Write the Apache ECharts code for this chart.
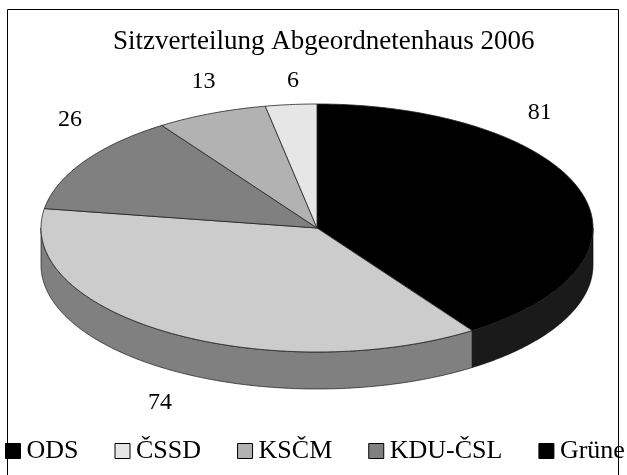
<!DOCTYPE html>
<html>
<head>
<meta charset="utf-8">
<script src="https://cdn.jsdelivr.net/npm/echarts@6/dist/echarts.min.js"></script>
<style>html,body{margin:0;padding:0;background:#fff}#c{width:627px;height:475px}</style>
</head>
<body>
<div id="c"></div>
<script>
// ---- data ----
const categories = ['ODS', 'ČSSD', 'KSČM', 'KDU-ČSL', 'Grüne'];
const seats = [81, 74, 26, 13, 6];
const titleText = 'Sitzverteilung Abgeordnetenhaus 2006';

// ---- styles / layout ----
const pieColors = ['#000000', '#cccccc', '#808080', '#b2b2b2', '#e6e6e6'];
const sideColors = ['#1a1a1a', '#808080', '#404040', '#595959', '#737373'];
const legendColors = ['#000000', '#e6e6e6', '#b2b2b2', '#808080', '#000000'];
const labelOffsets = [[-41, -79], [-9, 70], [-14, -42], [-8, -32], [2, -24]];
const FONT = '"Liberation Serif", "DejaVu Serif", serif';
const geo = { cx: 317, cy: 228, rx: 276, ry: 124, h: 37 };

const total = seats.reduce((a, b) => a + b, 0);
function pt(t, dy) {
  return [geo.cx + geo.rx * Math.sin(t), geo.cy - geo.ry * Math.cos(t) + (dy || 0)];
}
function arc(a, b, dy) {
  const n = Math.max(2, Math.ceil(Math.abs(b - a) / 0.01));
  const out = [];
  for (let k = 0; k <= n; k++) out.push(pt(a + (b - a) * k / n, dy));
  return out;
}

function makeRender(i) {
  return function (params, api) {
    let before = 0;
    for (let j = 0; j < i; j++) before += seats[j];
    const v = api.value(0);
    const a1 = before / total * Math.PI * 2;
    const a2 = (before + v) / total * Math.PI * 2;
    const children = [];
    const s = Math.max(a1, Math.PI / 2), e = Math.min(a2, Math.PI * 1.5);
    if (e > s) {
      const pts = arc(s, e, 0).concat(arc(e, s, geo.h));
      children.push({
        type: 'polygon', z2: 1,
        shape: { points: pts },
        style: { fill: sideColors[i], stroke: '#000', lineWidth: 0.6 }
      });
    }
    const top = [[geo.cx, geo.cy]].concat(arc(a1, a2, 0));
    children.push({
      type: 'polygon', z2: 2,
      shape: { points: top },
      style: { fill: pieColors[i], stroke: '#222', lineWidth: 0.8 }
    });
    const mid = (a1 + a2) / 2;
    const mp = pt(mid, 0);
    children.push({
      type: 'text', z2: 3,
      x: mp[0] + labelOffsets[i][0], y: mp[1] + labelOffsets[i][1],
      style: {
        text: String(v), fill: '#000', font: '24px ' + FONT,
        align: 'center', verticalAlign: 'middle'
      }
    });
    return { type: 'group', children: children };
  };
}

const series = categories.map((name, i) => ({
  type: 'custom',
  name: name,
  coordinateSystem: 'none',
  data: [[seats[i]]],
  itemStyle: { color: legendColors[i], borderColor: '#000', borderWidth: 1 },
  renderItem: makeRender(i),
  animation: false
}));

const chart = echarts.init(document.getElementById('c'), null, { renderer: 'canvas' });
chart.setOption({
  backgroundColor: '#fff',
  animation: false,
  title: {
    text: titleText, left: 108, top: 23,
    textStyle: { fontFamily: FONT, fontSize: 27, fontWeight: 'normal', color: '#000' }
  },
  legend: {
    data: categories, left: 0, top: 433, width: 700, icon: 'rect', padding: [5, 5, 5, 5],
    itemWidth: 15, itemHeight: 15, itemGap: 36,
    itemStyle: { borderColor: '#000', borderWidth: 1 },
    textStyle: { fontFamily: FONT, fontSize: 26, color: '#000', padding: [0, 0, 0, 1] },
    selectedMode: false
  },
  graphic: [{
    type: 'rect', silent: true,
    shape: { x: 7.5, y: 9.5, width: 611, height: 520 },
    style: { fill: 'none', stroke: '#000', lineWidth: 1 }
  }],
  series: series
});
</script>
</body>
</html>
